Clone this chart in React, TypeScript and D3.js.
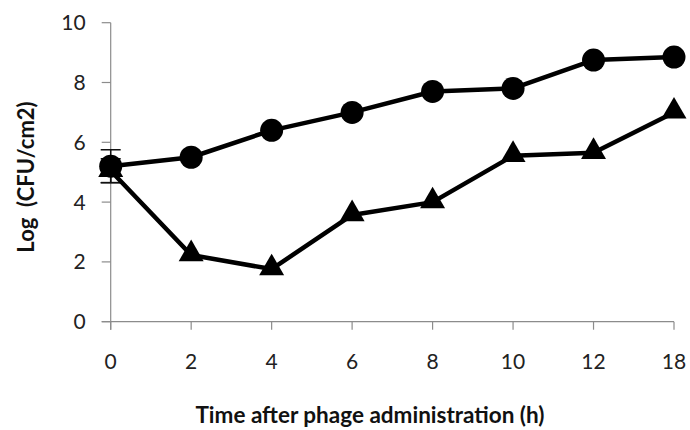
import { useEffect, useRef } from "react";
import * as d3 from "d3";

const hours = ["0", "2", "4", "6", "8", "10", "12", "18"];
const controlValues = [5.2, 5.5, 6.4, 7.0, 7.7, 7.8, 8.75, 8.85];
const phageValues = [5.05, 2.23, 1.76, 3.57, 4.0, 5.55, 5.65, 7.0];
const controlErr = [0.55, 0, 0, 0, 0, 0, 0, 0];
const phageErr = [0.4, 0, 0, 0, 0, 0, 0, 0];
const yTicks = [0, 2, 4, 6, 8, 10];

export default function App() {
  const svgRef = useRef<SVGSVGElement | null>(null);
  const width = 690;
  const height = 430;

  useEffect(() => {
    if (!svgRef.current) return;
    const svg = d3.select(svgRef.current);
    svg.selectAll("*").remove();

    const left = 110.7;
    const right = 674;
    const top = 22.7;
    const bottom = 321.7;
    const font = "Lato, 'Open Sans', sans-serif";
    const axisColor = "#8c8c8c";

    const x = d3
      .scalePoint<string>()
      .domain(hours)
      .range([left, right]);
    const y = d3.scaleLinear().domain([0, 10]).range([bottom, top]);

    // y axis
    const yAxis = svg.append("g");
    yAxis
      .append("line")
      .attr("x1", left)
      .attr("x2", left)
      .attr("y1", top)
      .attr("y2", bottom + 8)
      .attr("stroke", axisColor)
      .attr("stroke-width", 1.2);
    yTicks.forEach((t) => {
      yAxis
        .append("line")
        .attr("x1", left - 9)
        .attr("x2", left)
        .attr("y1", y(t))
        .attr("y2", y(t))
        .attr("stroke", axisColor)
        .attr("stroke-width", 1.2);
      yAxis
        .append("text")
        .attr("x", left - 25)
        .attr("y", y(t))
        .attr("dy", "0.36em")
        .attr("text-anchor", "end")
        .style("font-family", font)
        .style("font-size", "21px")
        .style("fill", "#222")
        .text(t);
    });

    // x axis
    const xAxis = svg.append("g");
    xAxis
      .append("line")
      .attr("x1", left - 9)
      .attr("x2", right)
      .attr("y1", bottom)
      .attr("y2", bottom)
      .attr("stroke", axisColor)
      .attr("stroke-width", 1.2);
    hours.forEach((h) => {
      const px = x(h) ?? 0;
      xAxis
        .append("line")
        .attr("x1", px)
        .attr("x2", px)
        .attr("y1", bottom)
        .attr("y2", bottom + 8)
        .attr("stroke", axisColor)
        .attr("stroke-width", 1.2);
      xAxis
        .append("text")
        .attr("x", px)
        .attr("y", bottom + 40)
        .attr("dy", "0.36em")
        .attr("text-anchor", "middle")
        .style("font-family", font)
        .style("font-size", "21px")
        .style("fill", "#222")
        .text(h);
    });

    // titles
    svg
      .append("text")
      .attr("x", 370)
      .attr("y", 423)
      .attr("text-anchor", "middle")
      .style("font-family", font)
      .style("font-size", "22.5px")
      .style("font-weight", "bold")
      .style("fill", "#111")
      .text("Time after phage administration (h)");

    svg
      .append("text")
      .attr("transform", `translate(26, 177) rotate(-90)`)
      .attr("dy", "0.36em")
      .attr("text-anchor", "middle")
      .attr("xml:space", "preserve")
      .style("font-family", font)
      .style("font-size", "22px")
      .style("font-weight", "bold")
      .style("fill", "#111")
      .style("white-space", "pre")
      .text("Log  (CFU/cm2)");

    const line = d3
      .line<number>()
      .x((_, i) => x(hours[i]) ?? 0)
      .y((d) => y(d));

    // error bars
    const errBars = (vals: number[], errs: number[]) => {
      vals.forEach((v, i) => {
        if (!errs[i]) return;
        const px = x(hours[i]) ?? 0;
        const g = svg.append("g").attr("stroke", "#111").attr("stroke-width", 1.5);
        g.append("line").attr("x1", px).attr("x2", px).attr("y1", y(v - errs[i])).attr("y2", y(v + errs[i]));
        [v - errs[i], v + errs[i]].forEach((e) => {
          g.append("line").attr("x1", px - 10).attr("x2", px + 10).attr("y1", y(e)).attr("y2", y(e));
        });
      });
    };
    errBars(controlValues, controlErr);
    errBars(phageValues, phageErr);

    // phage series (triangles)
    svg
      .append("path")
      .datum(phageValues)
      .attr("d", line)
      .attr("fill", "none")
      .attr("stroke", "#000")
      .attr("stroke-width", 4.5)
      .attr("stroke-linejoin", "round");
    const tri = d3.symbol().type(d3.symbolTriangle).size(270);
    svg
      .append("g")
      .selectAll("path")
      .data(phageValues)
      .join("path")
      .attr("d", tri)
      .attr("transform", (d, i) => `translate(${x(hours[i])},${y(d) - 1})`)
      .attr("fill", "#000");

    // control series (circles)
    svg
      .append("path")
      .datum(controlValues)
      .attr("d", line)
      .attr("fill", "none")
      .attr("stroke", "#000")
      .attr("stroke-width", 4.5)
      .attr("stroke-linejoin", "round");
    svg
      .append("g")
      .selectAll("circle")
      .data(controlValues)
      .join("circle")
      .attr("cx", (_, i) => x(hours[i]) ?? 0)
      .attr("cy", (d) => y(d))
      .attr("r", 11.5)
      .attr("fill", "#000");
  }, []);

  return (
    <svg
      ref={svgRef}
      width={width}
      height={height}
      style={{ position: "absolute", left: 0, top: 0, background: "#fff" }}
    />
  );
}
